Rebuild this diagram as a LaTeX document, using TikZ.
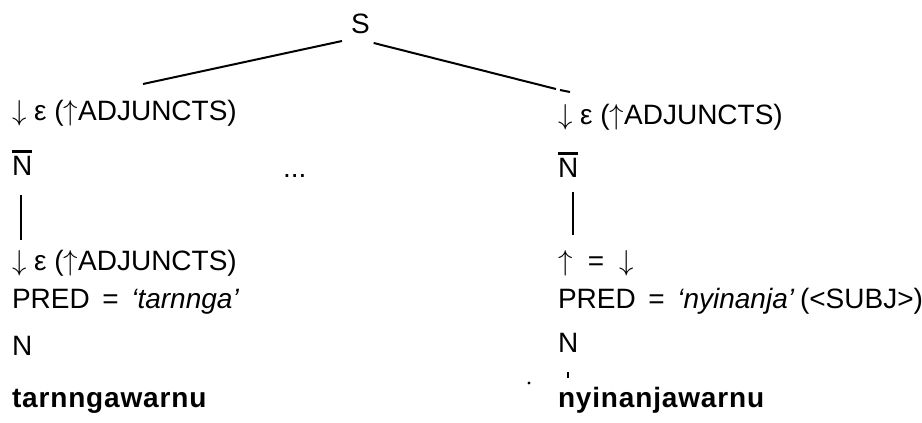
\documentclass[tikz,border=0pt]{standalone}
\usepackage{fontspec}
\setmainfont{Liberation Sans}
\newcommand\Nbar{\leavevmode\rlap{\rule[0.8em]{0.72em}{0.1em}}N}
\newcommand\dnar{$\downarrow$}
\newcommand\upar{$\uparrow$}
\begin{document}
\begin{tikzpicture}[x=0.5pt,y=-0.5pt,
  lbl/.style={anchor=base west,inner sep=0pt,outer sep=0pt,font=\fontsize{14}{17}\selectfont},
  wrd/.style={lbl,font=\fontsize{14}{17}\selectfont\bfseries\addfontfeatures{LetterSpace=3}},
  edge/.style={line width=1pt},
  vline/.style={line width=1.2pt},
  speck/.style={circle,fill=black,inner sep=0pt,minimum size=1.6pt}]
\useasboundingbox[fill=white] (0,0) rectangle (922,423);
% root
\node[lbl] (S) at (351,33) {S};
% left column
\node[lbl] (adjL1) at (12,120) {\dnar\ ε (\upar ADJUNCTS)};
\node[lbl] (nbarL) at (12,175) {\Nbar};
\node[lbl] (dots) at (283,177) {...};
\node[lbl] (adjL2) at (12,270) {\dnar\ ε (\upar ADJUNCTS)};
\node[lbl] (predL) at (12,308) {PRED\hspace{0.45em}=\hspace{0.45em}\textit{‘tarnnga’}};
\node[lbl] (nL) at (12,355) {N};
\node[wrd] (wordL) at (12,407) {tarnngawarnu};
% right column
\node[lbl] (adjR1) at (558,124) {\dnar\ ε (\upar ADJUNCTS)};
\node[lbl] (nbarR) at (558,177) {\Nbar};
\node[lbl] (eqR) at (558,270) {\upar\hspace{0.55em}=\hspace{0.55em}\dnar};
\node[lbl] (predR) at (558,308) {PRED\hspace{0.45em}=\hspace{0.45em}\textit{‘nyinanja’}\hspace{0.2em}(<SUBJ>)};
\node[lbl] (nR) at (558,352) {N};
\node[wrd] (wordR) at (558,407) {nyinanjawarnu};
\node[speck] (speck) at (529,383) {};
% connectors
\draw[edge] ([shift={(-9,8)}]S.base west) -- ([shift={(131,-36)}]adjL1.base west);
\draw[edge] ([shift={(4,10)}]S.base east) -- ([shift={(-2,-35)}]adjR1.base west);
\draw[edge] ([shift={(2,-34)}]adjR1.base west) -- ([shift={(12,-32)}]adjR1.base west);
\draw[vline] ([shift={(9,20)}]nbarL.base west) -- ([shift={(9,-30)}]adjL2.base west);
\draw[vline] ([shift={(15,15)}]nbarR.base west) -- ([shift={(15,-35)}]eqR.base west);
\draw[vline] ([shift={(10,20)}]nR.base west) -- ([shift={(10,-29)}]wordR.base west);
\end{tikzpicture}
\end{document}
